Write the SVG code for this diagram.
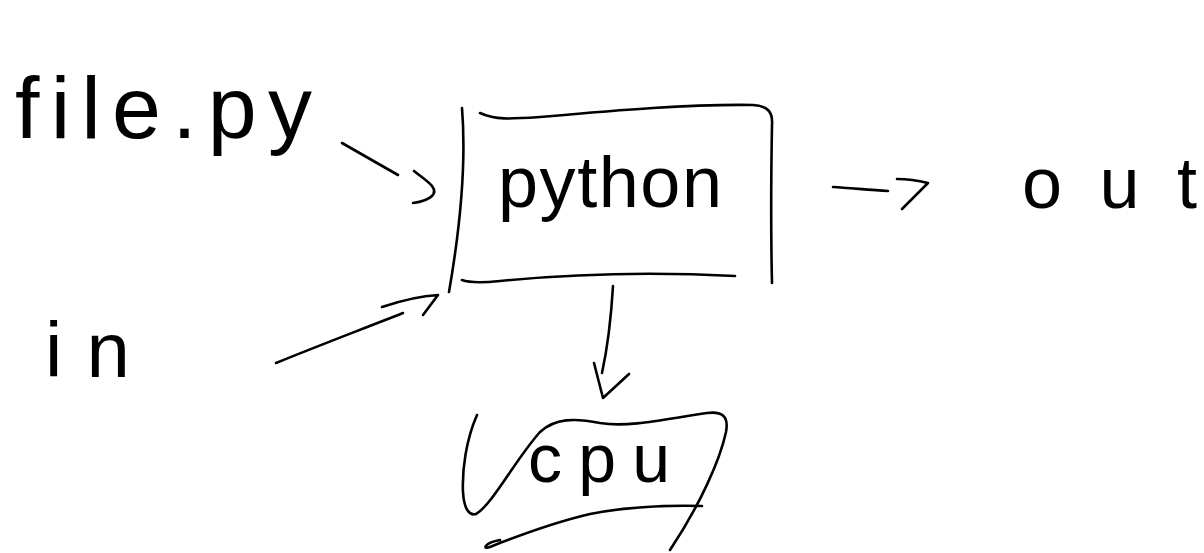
<svg xmlns="http://www.w3.org/2000/svg" width="1204" height="553" viewBox="0 0 1204 553">
<style>
.s{fill:none;stroke:#000;stroke-width:2.6;stroke-linecap:round;stroke-linejoin:round}
.t{font-family:"Liberation Sans","DejaVu Sans",sans-serif;font-weight:normal;fill:#000}
</style>
<rect width="1204" height="553" fill="#fff"/>
<g id="node-file">
<text class="t" x="15" y="138" font-size="88" textLength="297" lengthAdjust="spacing">file.py</text>
</g>
<g id="node-in">
<text class="t" x="45" y="377" font-size="78" textLength="85" lengthAdjust="spacing">in</text>
</g>
<g id="node-python">
<path class="s" d="M462,108 C467,170 458,240 449,292"/>
<path class="s" d="M480,113 C495,120 510,119 540,117 C620,110 690,104 753,105 C768,106 773,112 772,125 C771,180 771,240 772,283"/>
<path class="s" d="M462,280 C470,283 480,283 500,281 C580,273 660,272 735,276"/>
<text class="t" x="498" y="207" font-size="72" textLength="224" lengthAdjust="spacing">python</text>
</g>
<g id="node-out">
<text class="t" x="1022" y="208" font-size="72" textLength="175" lengthAdjust="spacing">out</text>
</g>
<g id="node-cpu">
<path class="s" d="M477,415 C466,440 462,470 463,492 C464,510 470,516 476,514 C492,505 515,460 540,432 C555,418 575,418 600,423 C630,428 670,418 707,413 C722,411 729,416 726,432 C720,460 700,505 670,550"/>
<path class="s" d="M702,506 C660,505 620,508 590,514 C560,521 520,535 490,547 C482,550 484,543 500,540"/>
<text class="t" x="528" y="482" font-size="68" textLength="142" lengthAdjust="spacing">cpu</text>
</g>
<g id="connectors">
<path class="s" d="M342,143 L398,175"/>
<path class="s" d="M414,171 C425,180 440,188 432,196 C428,200 420,202 413,203"/>
<path class="s" d="M276,363 C320,345 360,330 403,313"/>
<path class="s" d="M382,307 C400,301 420,296 438,295 L423,315"/>
<path class="s" d="M833,187 C850,188 870,190 888,191"/>
<path class="s" d="M897,179 C910,179 920,181 928,183 L902,209"/>
<path class="s" d="M613,286 C611,320 607,350 602,373"/>
<path class="s" d="M594,363 L603,398 L629,374"/>
</g>
</svg>
